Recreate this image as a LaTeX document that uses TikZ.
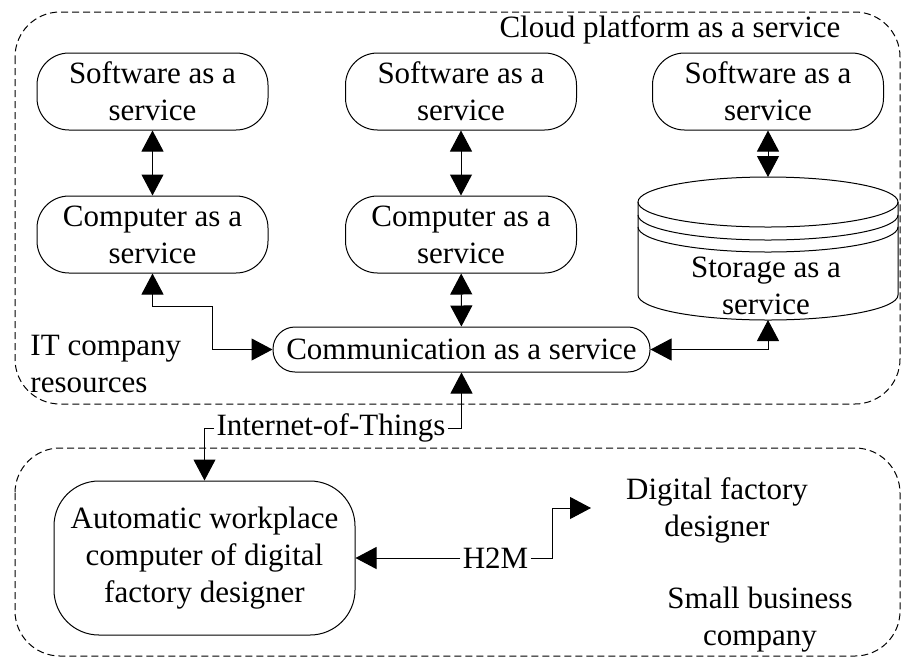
\documentclass[tikz,border=0pt]{standalone}
\usepackage{fontspec}
\setmainfont{Liberation Serif}
\usetikzlibrary{arrows.meta, positioning, calc}

\begin{document}
\begin{tikzpicture}[
  x=1pt, y=-1pt, line width=1pt,
  every node/.style={font=\fontsize{31}{37}\selectfont, inner sep=2pt, align=center},
  service/.style={draw, rounded corners=32pt, minimum width=231pt, minimum height=77pt},
  channel/.style={draw, rounded corners=22pt, minimum width=377pt, minimum height=45pt},
  station/.style={draw, rounded corners=45pt, minimum width=301pt, minimum height=154pt},
  zone/.style={dash pattern=on 7pt off 4pt, rounded corners=45pt},
  link/.style={-{Triangle[length=21pt, width=22pt]}},
  dbllink/.style={{Triangle[length=21pt, width=22pt]}-{Triangle[length=21pt, width=22pt]}},
]
\useasboundingbox (0,0) rectangle (902,657);

% Cloud side
\draw[zone] (15,12) rectangle (900,404);
\node[anchor=base] (cloud) at (670,37) {Cloud platform as a service};
\node[anchor=west, align=left] (itres) at (28,364) {IT company\\resources};

\node[service] (saas1) at (152.5,91.5) {Software as a\\service};
\node[service] (saas2) at (461,91.5) {Software as a\\service};
\node[service] (saas3) at (768,91.5) {Software as a\\service};
\node[service] (caas1) at (152.5,234.5) {Computer as a\\service};
\node[service] (caas2) at (461,234.5) {Computer as a\\service};

% storage drum
\draw (638,202) -- (638,295) arc[start angle=180, end angle=360, x radius=130pt, y radius=25pt] -- (898,202);
\draw (768,202) ellipse[x radius=130pt, y radius=25pt];
\draw (638,215) arc[start angle=180, end angle=360, x radius=130pt, y radius=25pt];
\draw (638,227) arc[start angle=180, end angle=360, x radius=130pt, y radius=25pt];
\coordinate (storetop) at (768,177);
\coordinate (storebot) at (768,320);
\node (store) at (766,286) {Storage as a\\service};

\node[channel] (comm) at (461.5,349.5) {Communication as a service};

\draw[dbllink] (saas1) -- (caas1);
\draw[dbllink] (saas2) -- (caas2);
\draw[dbllink] (saas3) -- (storetop);
\draw[dbllink] (caas2) -- (comm);
\draw[dbllink] (caas1.south) -- ++(0,33) -| ($(comm.west)+(-60,0)$) -- (comm.west);
\draw[dbllink] (storebot) |- (comm.east);

% Small business side
\draw[zone] (15,448) rectangle (900,656);
\node[station] (work) at (204.5,558) {Automatic workplace\\computer of digital\\factory designer};
\node (designer) at (717,510) {Digital factory\\designer};
\node (small) at (760,620) {Small business\\company};
\coordinate (dfdin) at (591,508);

\node (iot) at (331,428) {Internet-of-Things};
\draw[link] (iot.east) -| (comm.south);
\draw[link] (iot.west) -| (work.north);

\node (h2m) at (495.5,558) {H2M};
\draw[link] (h2m.west) -- (work.east);
\draw[link] (h2m.east) -- ++(22,0) |- (dfdin);
\end{tikzpicture}
\end{document}
